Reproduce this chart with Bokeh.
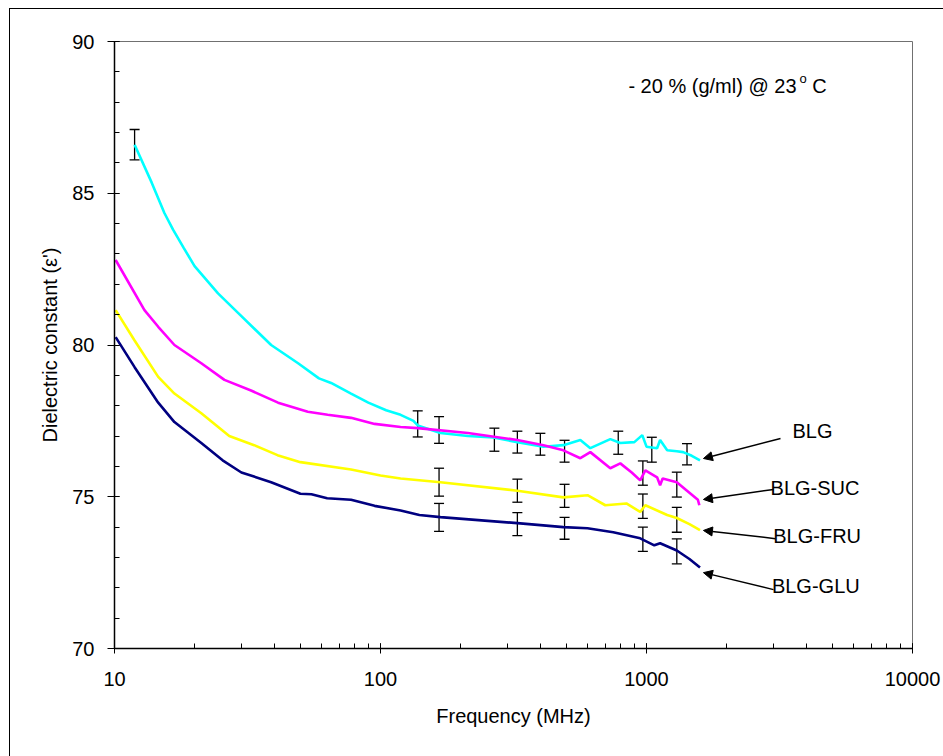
from bokeh.plotting import figure
from bokeh.models import (ColumnDataSource, Whisker, TeeHead, Arrow, NormalHead, Label,
                          LogTicker, SingleIntervalTicker, Range1d,
                          NumeralTickFormatter, InlineStyleSheet)
from bokeh.embed import file_html
from bokeh.resources import INLINE

FONT = "Liberation Sans"

# ---------------- data ----------------
blg_f = [11.9, 13.8, 15.4, 16.6, 18.2, 20, 24.5, 29.2, 38.8, 49, 58.7, 65.2, 77.5, 90, 105,
         119, 133, 138, 168, 213, 266, 327, 410, 487, 564, 615, 731, 797, 900, 964, 1000,
         1096, 1125, 1196, 1300, 1373, 1480, 1589]
blg_v = [86.6, 85.35, 84.35, 83.8, 83.2, 82.6, 81.7, 81.05, 80.0, 79.4, 78.9, 78.75, 78.4, 78.1, 77.85,
         77.7, 77.5, 77.35, 77.1, 77.0, 76.95, 76.8, 76.65, 76.7, 76.87, 76.6, 76.9, 76.77, 76.8, 77.03, 76.65,
         76.6, 76.87, 76.53, 76.5, 76.47, 76.35, 76.2]

suc_f = [10.1, 12.96, 14.6, 16.8, 21.2, 25.9, 32.6, 41.2, 53.3, 63.3, 77.5, 95, 119, 138, 213,
         327, 410, 487, 564, 615, 731, 797, 880, 947, 990, 1096, 1125, 1150, 1300, 1420, 1560, 1580]
suc_v = [82.8, 81.15, 80.6, 80.0, 79.4, 78.85, 78.5, 78.1, 77.8, 77.7, 77.6, 77.4, 77.3, 77.26, 77.1,
         76.87, 76.7, 76.53, 76.27, 76.47, 75.94, 76.1, 75.8, 75.54, 75.87, 75.64, 75.38, 75.6, 75.48, 75.2, 74.9, 74.72]

fru_f = [10.1, 11.9, 14.6, 16.8, 21.2, 27, 33.5, 41, 50, 77.5, 100, 119, 168, 327, 487, 600,
         700, 840, 947, 990, 1196, 1300, 1450, 1589]
fru_v = [81.15, 80.15, 78.95, 78.4, 77.75, 77.0, 76.7, 76.37, 76.14, 75.9, 75.7, 75.6, 75.48, 75.2, 74.98, 75.05,
         74.72, 74.78, 74.5, 74.72, 74.4, 74.3, 74.1, 73.9]

glu_f = [10.1, 11.9, 14.6, 16.8, 21.2, 25.5, 30, 38.8, 50, 55, 63, 77.5, 95, 119, 140, 168, 327,
         487, 600, 750, 947, 1070, 1125, 1300, 1450, 1589]
glu_v = [80.26, 79.27, 78.1, 77.46, 76.77, 76.2, 75.8, 75.48, 75.1, 75.08, 74.95, 74.9, 74.7, 74.55, 74.4, 74.33, 74.13,
         74.0, 73.96, 73.83, 73.63, 73.4, 73.47, 73.23, 72.95, 72.67]

# error bars: frequency, centre value, half-width
blg_err_f = [11.9, 138, 268, 399, 783, 1047, 1420]
blg_err_c = [86.6, 77.4, 76.88, 76.73, 76.78, 76.55, 76.4]
blg_err_h = [0.5, 0.43, 0.38, 0.36, 0.38, 0.41, 0.35]

suc_err_f = [166, 327, 492, 969, 1300]
suc_err_c = [77.2, 76.8, 76.5, 75.78, 75.4]
suc_err_h = [0.44, 0.36, 0.36, 0.4, 0.41]

fru_err_f = [166, 327, 492, 969, 1300]
fru_err_c = [75.48, 75.2, 75.03, 74.69, 74.24]
fru_err_h = [0.46, 0.38, 0.38, 0.4, 0.41]

glu_err_f = [166, 327, 492, 969, 1300]
glu_err_c = [74.32, 74.1, 73.96, 73.6, 73.2]
glu_err_h = [0.46, 0.38, 0.36, 0.4, 0.41]

series_names = ["BLG", "BLG-SUC", "BLG-FRU", "BLG-GLU"]
colors = ["#00FFFF", "#FF00FF", "#FFFF00", "#000080"]

# ---------------- figure ----------------
p = figure(width=943, height=756, x_axis_type="log",
           x_range=Range1d(10, 10000), y_range=Range1d(70, 90),
           output_backend="svg", toolbar_location=None,
           min_border_left=114, min_border_right=31, min_border_top=41, min_border_bottom=108)
p.background_fill_color = "white"
p.border_fill_color = "white"
p.outline_line_color = "#707070"
p.outline_line_width = 1
p.grid.visible = False

p.xaxis.ticker = LogTicker(desired_num_ticks=4, num_minor_ticks=10)
p.xaxis.formatter = NumeralTickFormatter(format="0")
p.yaxis.ticker = SingleIntervalTicker(interval=5, num_minor_ticks=5)

for ax in (p.xaxis, p.yaxis):
    ax.axis_line_color = "black"
    ax.axis_line_width = 1.5
    ax.major_tick_line_color = "black"
    ax.minor_tick_line_color = "black"
    ax.major_tick_in = 5
    ax.minor_tick_in = 5
    ax.minor_tick_out = 0
    ax.major_label_text_font = FONT
    ax.major_label_text_font_size = "20px"
    ax.major_label_text_color = "black"
    ax.axis_label_text_font = FONT
    ax.axis_label_text_font_size = "20px"
    ax.axis_label_text_font_style = "normal"
    ax.axis_label_text_color = "black"

p.xaxis.major_tick_out = 5
p.yaxis.major_tick_out = 7
p.xaxis.major_label_standoff = 18
p.yaxis.major_label_standoff = 13
p.xaxis.axis_label = "Frequency (MHz)"
p.yaxis.axis_label = "Dielectric constant (ε')"
p.xaxis.axis_label_standoff = 16
p.yaxis.axis_label_standoff = 8

line_data = [(blg_f, blg_v), (suc_f, suc_v), (fru_f, fru_v), (glu_f, glu_v)]
for (fx, vy), c in zip(line_data, colors):
    p.line(fx, vy, line_color=c, line_width=2.6)

err_data = [(blg_err_f, blg_err_c, blg_err_h), (suc_err_f, suc_err_c, suc_err_h),
            (fru_err_f, fru_err_c, fru_err_h), (glu_err_f, glu_err_c, glu_err_h)]
for ef, ec, eh in err_data:
    src = ColumnDataSource(dict(f=ef,
                                lo=[c - h for c, h in zip(ec, eh)],
                                hi=[c + h for c, h in zip(ec, eh)]))
    w = Whisker(source=src, base="f", lower="lo", upper="hi", dimension="height",
                line_color="black", line_width=1.3,
                lower_head=TeeHead(size=10, line_color="black", line_width=1.3),
                upper_head=TeeHead(size=10, line_color="black", line_width=1.3))
    p.add_layout(w)

# annotation arrows (text side -> curve end) and labels
arrow_start = [(3190, 76.92), (3002, 75.24), (3055, 73.62), (3002, 71.94)]
arrow_end = [(1637, 76.26), (1637, 74.91), (1637, 73.89), (1637, 72.50)]
label_pos = [(4207, 77.15), (4300, 75.30), (4380, 73.72), (4330, 72.05)]
for name, (sx, sy), (ex, ey), (lx, ly) in zip(series_names, arrow_start, arrow_end, label_pos):
    p.add_layout(Arrow(x_start=sx, y_start=sy, x_end=ex, y_end=ey,
                       line_color="black", line_width=1.5,
                       end=NormalHead(size=9, fill_color="black", line_color="black")))
    p.add_layout(Label(x=lx, y=ly, text=name, text_font=FONT, text_font_size="20px",
                       text_color="black", text_align="center", text_baseline="middle"))

p.add_layout(Label(x=855, y=88.55, text="- 20 % (g/ml) @ 23", text_font=FONT,
                   text_font_size="20px", text_color="black",
                   text_align="left", text_baseline="middle"))
p.add_layout(Label(x=3760, y=88.78, text="o", text_font=FONT,
                   text_font_size="13px", text_color="black",
                   text_align="left", text_baseline="middle"))
p.add_layout(Label(x=4200, y=88.55, text="C", text_font=FONT,
                   text_font_size="20px", text_color="black",
                   text_align="left", text_baseline="middle"))

# outer chart-area border (left and top edges visible in the window)
p.stylesheets = [InlineStyleSheet(css="""
:host { position: relative; }
:host::after {
  content: "";
  position: absolute;
  left: 9px; top: 8px; right: 0px; bottom: 0px;
  border-left: 1px solid #000;
  border-top: 1px solid #000;
  pointer-events: none;
}
""")]

open("out.html", "w").write(file_html(p, INLINE))
